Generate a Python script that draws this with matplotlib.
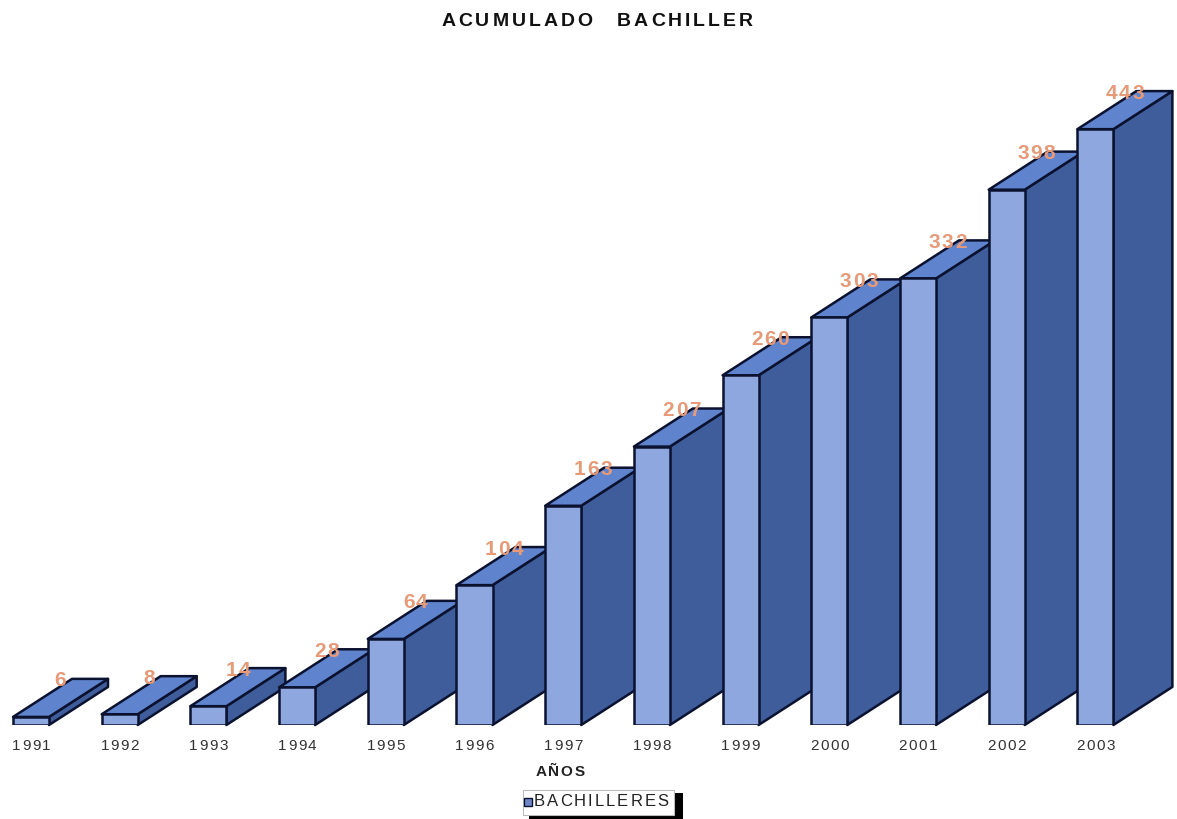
import matplotlib
matplotlib.use("Agg")
import matplotlib.pyplot as plt
from matplotlib.patches import Polygon, Rectangle
import numpy as np

years = ['1991', '1992', '1993', '1994', '1995', '1996', '1997',
         '1998', '1999', '2000', '2001', '2002', '2003']
bachilleres = [6, 8, 14, 28, 64, 104, 163, 207, 260, 303, 332, 398, 443]

W, H = 1177, 819
front_col = '#8ea7df'
top_col = '#5f83cc'
side_col = '#3f5d9a'
edge_col = '#0b1230'
label_col = '#e69a78'

plt.rcParams['font.family'] = ['Liberation Sans', 'DejaVu Sans']

fig = plt.figure(figsize=(W / 100, H / 100), dpi=100)
ax = fig.add_axes([0, (H - 725) / H, 1, 672.5 / H])
ax.set_xlim(-0.3495, 12.92)
ax.set_ylim(0, 500)
ax.axis('off')

x = np.arange(len(years))
w = 0.406      # front face width
dx = 0.665     # depth offset, category units
dy = 28.3      # depth offset, value units

bars = ax.bar(x, bachilleres, width=w, color=front_col, edgecolor=edge_col, linewidth=1.8)
for i, (xi, v) in enumerate(zip(x, bachilleres)):
    z = 2 + i * 0.1
    r = xi + w / 2
    l = xi - w / 2
    side = Polygon([(r, 0), (r + dx, dy), (r + dx, v + dy), (r, v)], closed=True,
                   facecolor=side_col, edgecolor=edge_col, linewidth=1.8, zorder=z,
                   clip_on=False, joinstyle='round')
    top = Polygon([(l, v), (r, v), (r + dx, v + dy), (l + dx, v + dy)], closed=True,
                  facecolor=top_col, edgecolor=edge_col, linewidth=1.8, zorder=z + 0.01,
                  clip_on=False, joinstyle='round')
    ax.add_patch(side)
    ax.add_patch(top)
    bars.patches[i].set_zorder(z + 0.02)
    bars.patches[i].set_joinstyle('round')

renderer = fig.canvas.get_renderer()


def spaced(s, px, py, gap, space_px=None, **kw):
    """draw text letter by letter; px, py are pixels from the top-left corner"""
    parts = []
    for ch in s:
        if ch == ' ':
            parts.append((None, space_px if space_px is not None else gap * 2))
            continue
        t = fig.text(0, 0, ch, va='center', ha='left', **kw)
        parts.append((t, t.get_window_extent(renderer).width))
    total = sum(p[1] for p in parts) + gap * (len(parts) - 1)
    cx = px - total / 2
    for t, wd in parts:
        if t is not None:
            t.set_position((cx / W, 1 - py / H))
        cx += wd + gap


def data_px(xd, yd):
    dxp, dyp = ax.transData.transform((xd, yd))
    return dxp, H - dyp


# title
spaced('ACUMULADO BACHILLER', 597, 22, 3, space_px=18, fontsize=14,
       fontweight='bold', color='#111111')

# value labels on top of the bars
for xi, v in zip(x, bachilleres):
    px, py = data_px(xi + dx / 2, v + dy)
    spaced(str(v), px, py + 2, 1.5, fontsize=15, fontweight='bold', color=label_col, zorder=10)

# year labels
for xi, yr in zip(x, years):
    px, _ = data_px(xi, 0)
    spaced(yr, px, 746, 1.5, fontsize=11, color='#333333')

spaced('AÑOS', 560, 772, 1.5, fontsize=11, fontweight='bold', color='#222222')

# legend box with black shadow
fig.add_artist(Rectangle((529 / W, 1 - 819 / H), 154 / W, 26 / H, transform=fig.transFigure,
                         facecolor='black', edgecolor='none'))
fig.add_artist(Rectangle((523 / W, 1 - 815 / H), 151 / W, 25 / H, transform=fig.transFigure,
                         facecolor='white', edgecolor='#bbbbbb', linewidth=0.8))
fig.add_artist(Rectangle((524 / W, 1 - 806 / H), 8 / W, 8 / H, transform=fig.transFigure,
                         facecolor='#6f86c6', edgecolor=edge_col, linewidth=1.0))
spaced('BACHILLERES', 601, 802, 2, fontsize=12, color='#222222')

fig.savefig('out.png', dpi=100)
